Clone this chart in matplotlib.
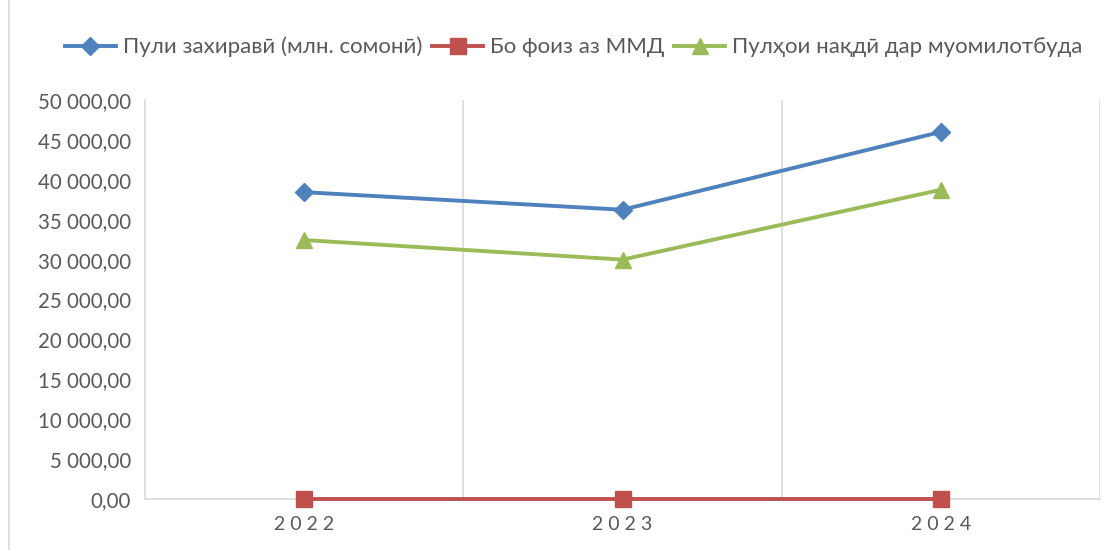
import matplotlib.pyplot as plt
from matplotlib.ticker import FuncFormatter
from matplotlib.lines import Line2D

plt.rcParams['font.family'] = ['Lato', 'DejaVu Sans']

years = ["2022", "2023", "2024"]
pul_zakhiravi = [38450, 36250, 46000]
bo_foiz_mmd = [0, 0, 0]
pulhoi_naqdi = [32450, 30000, 38750]

labels = [
    "Пули захиравӣ (млн. сомонӣ)",
    "Бо фоиз аз ММД",
    "Пулҳои нақдӣ дар муомилотбуда",
]

text_color = "#595959"
grid_color = "#d9d9d9"

fig = plt.figure(figsize=(11.16, 5.5), dpi=100)
ax = fig.add_axes([145 / 1116, 1 - 499 / 550, (1100 - 145) / 1116, (499 - 100) / 550])

x = list(range(len(years)))
ax.plot(x, pul_zakhiravi, color="#4F81BD", lw=2.8, marker="D", ms=9, label=labels[0])
ax.plot(x, bo_foiz_mmd, color="#C0504D", lw=2.8, marker="s", ms=11, label=labels[1], clip_on=False, zorder=3)
ax.plot(x, pulhoi_naqdi, color="#9BBB59", lw=2.8, marker="^", ms=11, label=labels[2])

ax.set_xlim(-0.5, len(years) - 0.5)
ax.set_ylim(0, 50000)
ax.set_yticks(range(0, 50001, 5000))
ax.yaxis.set_major_formatter(FuncFormatter(lambda v, p: f"{v:,.2f}".replace(",", " ").replace(".", ",")))
ax.set_xticks(x)
ax.set_xticklabels([" ".join(y) for y in years])

# vertical gridlines between categories
for b in [i + 0.5 for i in x]:
    ax.axvline(b, color=grid_color, lw=1.2, zorder=0)

for s in ["top", "right"]:
    ax.spines[s].set_visible(False)
for s in ["left", "bottom"]:
    ax.spines[s].set_color(grid_color)
    ax.spines[s].set_linewidth(1.2)

ax.tick_params(axis="y", length=0, colors=text_color, labelsize=14.8, pad=10)
ax.tick_params(axis="x", length=0, colors=text_color, labelsize=14, pad=12)

ax.legend(loc="center", bbox_to_anchor=(0.514, 1 - 47 / 550), bbox_transform=fig.transFigure,
          ncol=3, frameon=False, fontsize=16, labelcolor=text_color,
          handlelength=2.3, handletextpad=0.3, columnspacing=0.45)

# chart frame at left edge
fig.add_artist(Line2D([9 / 1116, 9 / 1116], [0, 1], color=grid_color, lw=1.2))

fig.savefig("out.png", dpi=100)
